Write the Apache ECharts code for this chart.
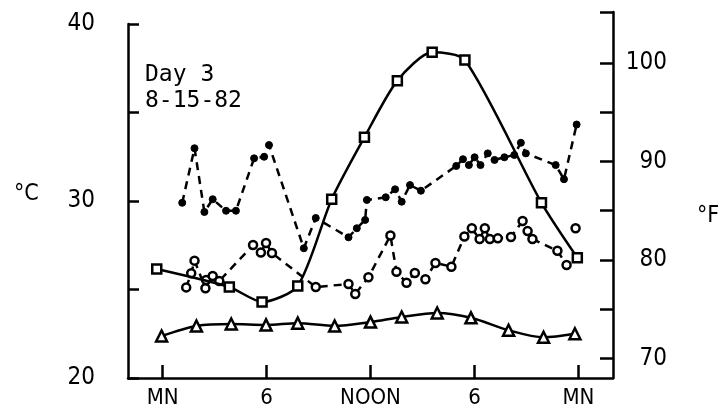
<!DOCTYPE html>
<html>
<head>
<meta charset="utf-8">
<script src="https://cdn.jsdelivr.net/npm/echarts@6.0.0/dist/echarts.min.js"></script>
<style>
  html, body { margin: 0; padding: 0; background: #fff; }
  #chart { width: 727px; height: 412px; }
</style>
</head>
<body>
<div id="chart"></div>
<script>
// hour of day (0 = MN) and temperature in °C
const squareHours = [-0.34, 3.85, 5.74, 7.8, 9.76, 11.65, 13.55, 15.56, 17.45, 21.87, 23.94];
const squareTemps = [26.16, 25.14, 24.3, 25.2, 30.1, 33.6, 36.8, 38.4, 37.97, 29.9, 26.8];

const triangleHours = [-0.06, 1.95, 3.96, 5.97, 7.8, 9.93, 12.0, 13.8, 15.85, 17.8, 19.97, 21.99, 23.8];
const triangleTemps = [22.37, 22.94, 23.05, 23.0, 23.1, 22.94, 23.16, 23.45, 23.67, 23.4, 22.7, 22.3, 22.5];

const dotHours = [1.13, 1.84, 2.41, 2.89, 3.66, 4.23, 5.28, 5.86, 6.14, 8.15, 8.84,
  10.73, 11.21, 11.69, 11.79, 12.88, 13.42, 13.8, 14.28, 14.91,
  16.95, 17.34, 17.68, 18.01, 18.35, 18.77, 19.16, 19.73, 20.3, 20.68, 20.97,
  22.69, 23.17, 23.9];
const dotTemps = [29.9, 32.98, 29.38, 30.1, 29.45, 29.45, 32.41, 32.5, 33.16, 27.33, 29.04,
  27.95, 28.46, 28.93, 30.06, 30.21, 30.66, 29.96, 30.9, 30.58,
  31.98, 32.36, 32.03, 32.47, 32.03, 32.69, 32.32, 32.47, 32.6, 33.29, 32.69,
  32.03, 31.23, 34.32];

const circleHours = [1.36, 1.65, 1.84, 2.47, 2.51, 2.89, 3.27, 5.22, 5.67, 5.97, 6.31,
  8.84, 10.73, 11.12, 11.88, 13.15, 13.5, 14.08, 14.56, 15.17, 15.75, 16.67,
  17.42, 17.85, 18.3, 18.6, 18.89, 19.35, 20.11, 20.78, 21.07, 21.35, 22.79, 23.32];
const circleTemps = [25.12, 25.92, 26.63, 25.07, 25.54, 25.76, 25.48, 27.51, 27.09, 27.63, 27.06,
  25.14, 25.31, 24.75, 25.69, 28.05, 26.0, 25.38, 25.93, 25.58, 26.5, 26.29,
  27.99, 28.46, 27.85, 28.46, 27.85, 27.89, 27.97, 28.87, 28.3, 27.85, 27.19, 26.38];
const circleLoneHours = [23.84];
const circleLoneTemps = [28.46];

const hourTicks = [0, 6, 12, 18, 24];
const hourLabels = ['MN', '6', 'NOON', '6', 'MN'];
const fahrenheitTicks = [70, 75, 80, 85, 90, 95, 100, 105.2];
const fahrenheitLabels = [70, 80, 90, 100];

const zip = (xs, ys) => xs.map((x, i) => [x, ys[i]]);

const ink = '#000';
const labelFont = '"DejaVu Sans Condensed", "Liberation Sans Narrow", sans-serif';

const chart = echarts.init(document.getElementById('chart'));

const option = {
    backgroundColor: '#fff',
    animation: false,
    title: {
        text: 'Day 3\n8-15-82',
        left: 140,
        top: 57,
        textStyle: {
            color: ink,
            fontFamily: '"DejaVu Sans Mono", monospace',
            fontWeight: 'normal',
            fontSize: 23,
            lineHeight: 26
        }
    },
    graphic: [
        { type: 'text', left: 14, top: 183, style: { text: '°C', fill: ink, font: '23px ' + labelFont } },
        { type: 'text', left: 697, top: 205, style: { text: '°F', fill: ink, font: '23px ' + labelFont } }
    ],
    grid: [
        { left: 128, right: 114, top: 24, bottom: 34 },
        { left: 128, right: 114, top: 12, bottom: 34 }
    ],
    xAxis: [
        {
            type: 'value',
            gridIndex: 0,
            min: -2,
            max: 26,
            axisLine: { onZero: false, lineStyle: { color: ink, width: 2.5 } },
            axisTick: { inside: true, length: 13, customValues: hourTicks, lineStyle: { color: ink, width: 2.5 } },
            axisLabel: {
                customValues: hourTicks,
                formatter: (v) => hourLabels[hourTicks.indexOf(v)],
                color: ink,
                fontFamily: labelFont,
                fontSize: 22,
                margin: 9
            },
            splitLine: { show: false }
        },
        {
            type: 'value',
            gridIndex: 1,
            min: -2,
            max: 26,
            show: false
        }
    ],
    yAxis: [
        {
            type: 'value',
            gridIndex: 0,
            min: 20,
            max: 40,
            interval: 5,
            axisLine: { show: true, onZero: false, lineStyle: { color: ink, width: 2.5 } },
            axisTick: { inside: true, length: 11, lineStyle: { color: ink, width: 2.5 } },
            axisLabel: {
                formatter: (v) => (v % 10 === 0 ? String(v) : ''),
                color: ink,
                fontFamily: labelFont,
                fontSize: 24,
                margin: 33
            },
            splitLine: { show: false }
        },
        {
            type: 'value',
            gridIndex: 1,
            position: 'right',
            min: 68,
            max: 105.2,
            axisLine: { show: true, onZero: false, lineStyle: { color: ink, width: 2.5 } },
            axisTick: { inside: true, length: 13, customValues: fahrenheitTicks, lineStyle: { color: ink, width: 2.5 } },
            axisLabel: {
                customValues: fahrenheitLabels,
                color: ink,
                fontFamily: labelFont,
                fontSize: 24,
                align: 'right',
                margin: 54
            },
            splitLine: { show: false }
        }
    ],
    series: [
        {
            type: 'line',
            data: zip(squareHours, squareTemps),
            smooth: 0.25,
            symbol: 'rect',
            symbolSize: 9,
            itemStyle: { color: '#fff', borderColor: ink, borderWidth: 2.5 },
            lineStyle: { color: ink, width: 2.5 },
            z: 3
        },
        {
            type: 'line',
            data: zip(triangleHours, triangleTemps),
            smooth: 0.3,
            symbol: 'triangle',
            symbolSize: 11,
            itemStyle: { color: '#fff', borderColor: ink, borderWidth: 2.5 },
            lineStyle: { color: ink, width: 2.5 },
            z: 3
        },
        {
            type: 'line',
            data: zip(dotHours, dotTemps),
            symbol: 'circle',
            symbolSize: 7,
            itemStyle: { color: ink, borderColor: ink, borderWidth: 1 },
            lineStyle: { color: ink, width: 2.5, type: [8, 6] },
            z: 2
        },
        {
            type: 'line',
            data: zip(circleHours, circleTemps),
            symbol: 'circle',
            symbolSize: 8,
            itemStyle: { color: '#fff', borderColor: ink, borderWidth: 2.5 },
            lineStyle: { color: ink, width: 2.5, type: [8, 6] },
            z: 2
        },
        {
            type: 'scatter',
            data: zip(circleLoneHours, circleLoneTemps),
            symbol: 'circle',
            symbolSize: 8,
            itemStyle: { color: '#fff', borderColor: ink, borderWidth: 2.5, opacity: 1 },
            z: 2
        }
    ]
};

chart.setOption(option);
</script>
</body>
</html>
